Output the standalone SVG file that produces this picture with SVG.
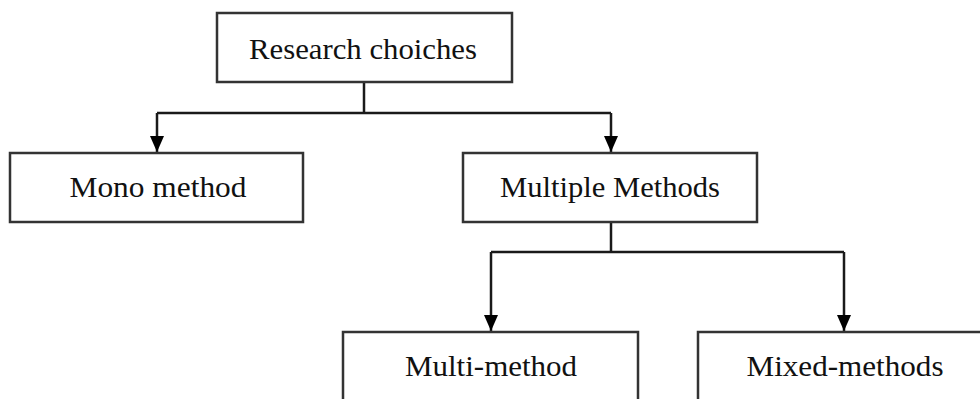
<svg xmlns="http://www.w3.org/2000/svg" width="980" height="399" viewBox="0 0 980 399">
  <style>
    .box { fill: #ffffff; stroke: #333333; stroke-width: 2.5; }
    .wire { fill: none; stroke: #1a1a1a; stroke-width: 2.5; }
    .label { font-family: "Liberation Serif", "Times New Roman", serif; font-size: 30px; fill: #111111; text-anchor: middle; }
  </style>
  <defs>
    <marker id="arrow" markerUnits="userSpaceOnUse" markerWidth="16" markerHeight="16" viewBox="0 0 16 16" refX="16" refY="8" orient="auto">
      <path d="M0,1 L16,8 L0,15 Z" fill="#000000"/>
    </marker>
  </defs>
  <rect width="980" height="399" fill="#ffffff"/>

  <g id="connectors">
    <line class="wire" x1="364" y1="82" x2="364" y2="113"/>
    <line class="wire" x1="157" y1="113" x2="611" y2="113"/>
    <line class="wire" x1="157" y1="113" x2="157" y2="152" marker-end="url(#arrow)"/>
    <line class="wire" x1="611" y1="113" x2="611" y2="152" marker-end="url(#arrow)"/>
    <line class="wire" x1="611" y1="222" x2="611" y2="252"/>
    <line class="wire" x1="491" y1="252" x2="844" y2="252"/>
    <line class="wire" x1="491" y1="252" x2="491" y2="331" marker-end="url(#arrow)"/>
    <line class="wire" x1="844" y1="252" x2="844" y2="331" marker-end="url(#arrow)"/>
  </g>

  <g id="research-choices">
    <rect class="box" x="217" y="13" width="295" height="69"/>
    <text class="label" x="363" y="59" textLength="228" lengthAdjust="spacingAndGlyphs">Research choiches</text>
  </g>

  <g id="mono-method">
    <rect class="box" x="10" y="153" width="293" height="69"/>
    <text class="label" x="158" y="197" textLength="177" lengthAdjust="spacingAndGlyphs">Mono method</text>
  </g>

  <g id="multiple-methods">
    <rect class="box" x="463" y="153" width="294" height="69"/>
    <text class="label" x="610" y="197" textLength="220" lengthAdjust="spacingAndGlyphs">Multiple Methods</text>
  </g>

  <g id="multi-method">
    <rect class="box" x="343" y="332" width="295" height="90"/>
    <text class="label" x="491" y="376" textLength="172" lengthAdjust="spacingAndGlyphs">Multi-method</text>
  </g>

  <g id="mixed-methods">
    <rect class="box" x="698" y="332" width="300" height="90"/>
    <text class="label" x="845" y="376" textLength="197" lengthAdjust="spacingAndGlyphs">Mixed-methods</text>
  </g>
</svg>
